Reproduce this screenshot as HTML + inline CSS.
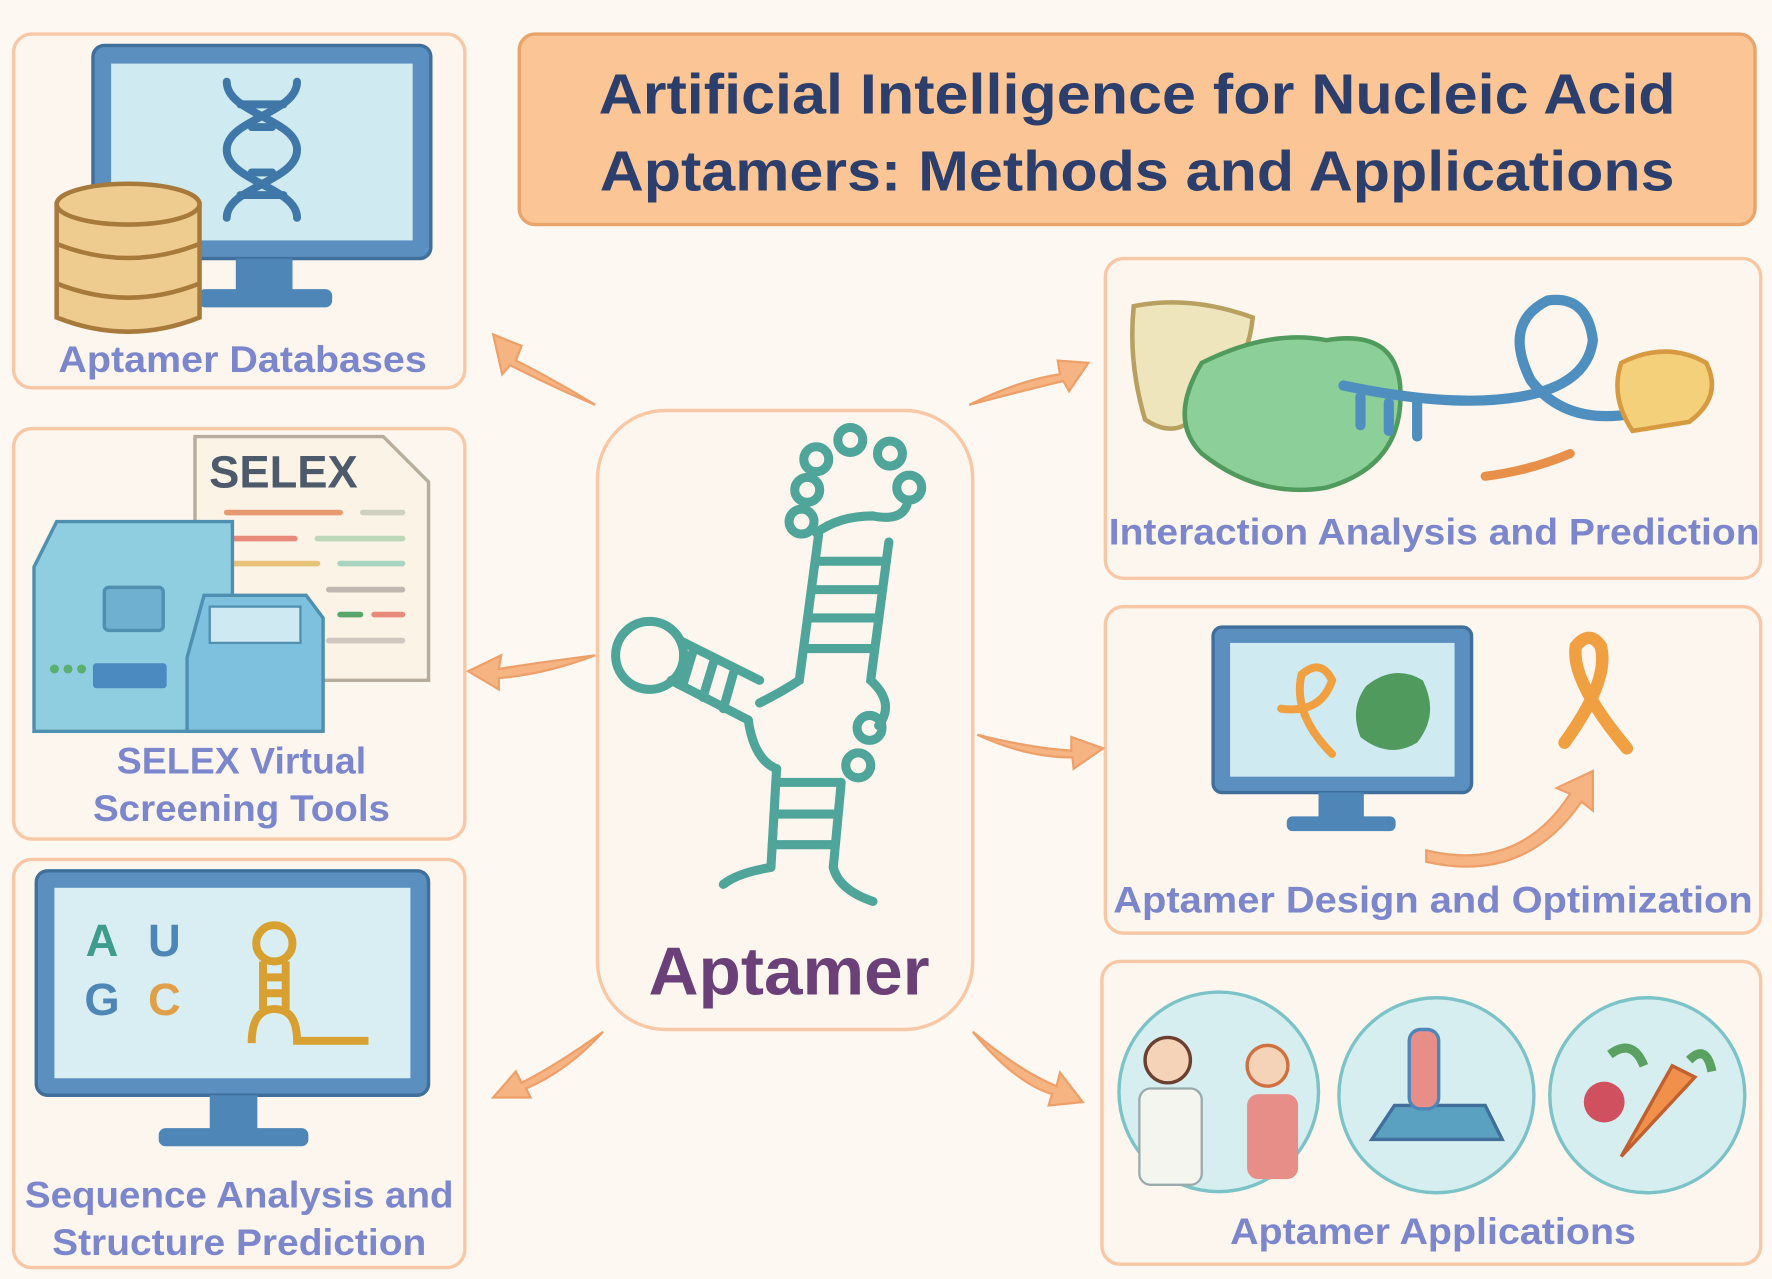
<!DOCTYPE html>
<html><head><style>
html,body{margin:0;padding:0;background:#fdf8f2;}
svg{display:block}
text{font-family:"Liberation Sans","DejaVu Sans",sans-serif;font-weight:bold}
</style></head><body>
<svg width="1772" height="1279" viewBox="0 0 1563 1128" xmlns="http://www.w3.org/2000/svg">
<rect width="1563" height="1128" fill="#fdf8f2"/>
<g fill="#fdf6ee" stroke="#f8c8a6" stroke-width="3">
<rect x="12" y="30" width="398" height="312" rx="16"/>
<rect x="12" y="378" width="398" height="362" rx="16"/>
<rect x="12" y="758" width="398" height="360" rx="16"/>
<rect x="975" y="228" width="578" height="282" rx="16"/>
<rect x="975" y="535" width="578" height="288" rx="16"/>
<rect x="972" y="848" width="581" height="267" rx="16"/>
<rect x="527" y="362" width="331" height="546" rx="60"/>
</g>
<rect x="458" y="30" width="1090" height="168" rx="14" fill="#fbc596" stroke="#e9a46c" stroke-width="3"/>
<g fill="#2c3e6b" font-size="50" text-anchor="middle">
<text x="1003" y="100" textLength="950" lengthAdjust="spacingAndGlyphs">Artificial Intelligence for Nucleic Acid</text>
<text x="1003" y="168" textLength="948" lengthAdjust="spacingAndGlyphs">Aptamers: Methods and Applications</text>
</g>
<g fill="#7b86cc" font-size="33" text-anchor="middle">
<text x="214" y="328" textLength="325" lengthAdjust="spacingAndGlyphs">Aptamer Databases</text>
<text x="213" y="682" textLength="220" lengthAdjust="spacingAndGlyphs">SELEX Virtual</text>
<text x="213" y="724" textLength="262" lengthAdjust="spacingAndGlyphs">Screening Tools</text>
<text x="211" y="1065" textLength="378" lengthAdjust="spacingAndGlyphs">Sequence Analysis and</text>
<text x="211" y="1107" textLength="330" lengthAdjust="spacingAndGlyphs">Structure Prediction</text>
<text x="1265" y="480" textLength="574" lengthAdjust="spacingAndGlyphs">Interaction Analysis and Prediction</text>
<text x="1264" y="805" textLength="564" lengthAdjust="spacingAndGlyphs">Aptamer Design and Optimization</text>
<text x="1264" y="1097" textLength="358" lengthAdjust="spacingAndGlyphs">Aptamer Applications</text>
</g>
<text x="696" y="877" fill="#6b3f78" font-size="60" text-anchor="middle" textLength="248" lengthAdjust="spacingAndGlyphs">Aptamer</text>

<!-- arrows -->
<g fill="#f6b483" stroke="#eea06a" stroke-width="2">
<path d="M525 357 Q480 330 455 318 L460 305 L435 295 L443 330 L450 322 Q485 340 525 357Z"/>
<path d="M525 578 Q470 585 440 590 L442 578 L413 592 L440 608 L440 598 Q480 595 525 578Z"/>
<path d="M532 910 Q490 940 460 955 L455 945 L435 968 L468 968 L464 960 Q500 945 532 910Z"/>
<path d="M855 357 Q900 335 935 330 L933 318 L960 320 L943 345 L938 336 Q900 345 855 357Z"/>
<path d="M862 648 Q910 660 945 662 L945 650 L973 660 L947 678 L946 668 Q905 668 862 648Z"/>
<path d="M858 910 Q900 945 932 958 L935 946 L955 972 L925 975 L928 965 Q895 955 858 910Z"/>
<path d="M1258 750 Q1340 770 1385 700 L1373 695 L1405 680 L1405 715 L1395 707 Q1345 780 1258 760Z"/>
</g>

<!-- box1 monitor + db -->
<rect x="82" y="40" width="298" height="188" rx="10" fill="#5a8fc0" stroke="#3f6f9a" stroke-width="3"/>
<rect x="98" y="56" width="266" height="156" fill="#cfeaf0"/>
<rect x="208" y="228" width="50" height="28" fill="#4f86b8"/>
<rect x="175" y="255" width="118" height="16" rx="6" fill="#4f86b8"/>
<g stroke="#3f78a8" stroke-width="7" fill="none" stroke-linecap="round">
<path d="M200 72 C200 100 262 105 262 132 C262 160 200 165 200 192"/>
<path d="M262 72 C262 100 200 105 200 132 C200 160 262 165 262 192"/>
<path d="M212 92 H250 M222 112 H240 M222 152 H240 M212 172 H250"/>
</g>
<g fill="#eecb8e" stroke="#a77a3c" stroke-width="4">
<path d="M50 180 V280 Q113 305 176 280 V180Z"/>
<ellipse cx="113" cy="180" rx="63" ry="18"/>
<path d="M50 215 Q113 240 176 215 M50 250 Q113 275 176 250" fill="none"/>
</g>

<!-- box2 selex -->
<path d="M172 385 H338 L378 425 V600 H172Z" fill="#fbf3e6" stroke="#b8ad9c" stroke-width="3"/>
<text x="250" y="430" fill="#4c5a6c" font-size="40" text-anchor="middle">SELEX</text>
<g stroke-width="5" stroke-linecap="round">
<path d="M200 452 H300" stroke="#e79a70"/><path d="M320 452 H355" stroke="#cfd0c0"/>
<path d="M200 475 H260" stroke="#e88a7a"/><path d="M280 475 H355" stroke="#bcd8b8"/>
<path d="M200 497 H280" stroke="#e9c27a"/><path d="M300 497 H355" stroke="#a8d4c0"/>
<path d="M290 520 H355" stroke="#c0b8b0"/><path d="M300 542 H318" stroke="#5aa66a"/><path d="M330 542 H355" stroke="#e88a7a"/>
<path d="M290 565 H355" stroke="#d0c8c0"/>
</g>
<path d="M30 500 L50 460 H205 V645 H30Z" fill="#8fcde0" stroke="#4f8fb0" stroke-width="3"/>
<rect x="92" y="518" width="52" height="38" rx="4" fill="#6fb0d0" stroke="#4f8fb0" stroke-width="3"/>
<rect x="82" y="585" width="65" height="22" rx="3" fill="#4a8ac0"/>
<circle cx="48" cy="590" r="4" fill="#5ab070"/><circle cx="60" cy="590" r="4" fill="#5ab070"/><circle cx="72" cy="590" r="4" fill="#5ab070"/>
<path d="M165 580 V645 H285 V545 L270 525 H180Z" fill="#7ec1de" stroke="#4f8fb0" stroke-width="3"/>
<rect x="185" y="535" width="80" height="32" fill="#cfe9f2" stroke="#4f8fb0" stroke-width="2"/>

<!-- box3 -->
<rect x="32" y="768" width="346" height="198" rx="10" fill="#5a8fc0" stroke="#3f6f9a" stroke-width="3"/>
<rect x="48" y="783" width="314" height="168" fill="#d9eef2"/>
<rect x="185" y="966" width="42" height="30" fill="#4f86b8"/>
<rect x="140" y="995" width="132" height="16" rx="6" fill="#4f86b8"/>
<text x="90" y="843" font-size="40" fill="#3e9c8c" text-anchor="middle">A</text>
<text x="145" y="843" font-size="40" fill="#4f86b8" text-anchor="middle">U</text>
<text x="90" y="895" font-size="40" fill="#4f86b8" text-anchor="middle">G</text>
<text x="145" y="895" font-size="40" fill="#e0a04a" text-anchor="middle">C</text>
<g stroke="#d8a030" stroke-width="7" fill="none">
<circle cx="242" cy="832" r="16"/>
<path d="M232 848 V890 M252 848 V890 M232 862 H252 M232 876 H252 M222 920 Q222 890 242 890 Q262 890 262 918 H325"/>
</g>

<!-- aptamer structure -->
<g stroke="#4fa59a" stroke-width="8" fill="none" stroke-linecap="round">
<circle cx="707" cy="460" r="11"/><circle cx="712" cy="432" r="11"/><circle cx="720" cy="405" r="11"/>
<circle cx="750" cy="388" r="11"/><circle cx="785" cy="400" r="11"/><circle cx="802" cy="430" r="11"/>
<path d="M720 470 Q740 455 770 455 Q795 460 800 445"/>
<path d="M722 472 L705 600 Q690 610 670 620 M784 478 L768 600 Q790 620 775 640"/>
<path d="M722 495 H782 M718 520 H778 M714 545 H774 M710 572 H770"/>
<circle cx="573" cy="578" r="30"/>
<path d="M600 565 L670 600 M592 600 L660 635 M612 572 L602 605 M630 582 L620 615 M648 590 L638 625"/>
<path d="M660 635 Q665 670 685 678"/>
<circle cx="767" cy="642" r="11"/><circle cx="757" cy="675" r="11"/>
<path d="M685 678 L680 765 M742 690 L735 765 M685 690 H740 M683 718 H738 M681 745 H736"/>
<path d="M680 765 Q650 770 638 780 M735 765 Q740 785 770 795"/>
</g>

<!-- interaction -->
<path d="M1000 270 Q1050 260 1105 280 Q1100 330 1060 360 Q1040 390 1010 370 Q995 320 1000 270Z" fill="#eee5bd" stroke="#b8a060" stroke-width="4"/>
<path d="M1060 320 Q1120 290 1170 300 Q1230 290 1235 340 Q1240 410 1170 430 Q1110 440 1060 400 Q1030 370 1060 320Z" fill="#8dcf98" stroke="#4f9a5c" stroke-width="4"/>
<g stroke="#4f8fc0" stroke-width="9" fill="none" stroke-linecap="round">
<path d="M1185 340 Q1280 360 1340 350 Q1400 340 1405 300 Q1400 260 1365 265 Q1325 285 1350 335 Q1380 375 1440 365 Q1470 345 1475 330"/>
<path d="M1200 350 V375 M1225 355 V380 M1250 355 V385"/>
</g>
<path d="M1430 320 Q1470 300 1505 320 Q1520 350 1490 372 L1440 380 Q1420 350 1430 320Z" fill="#f5d07a" stroke="#d89a40" stroke-width="4"/>
<path d="M1310 420 Q1350 415 1385 400" stroke="#e8904a" stroke-width="8" fill="none" stroke-linecap="round"/>

<!-- design -->
<rect x="1070" y="553" width="228" height="146" rx="8" fill="#5a8fc0" stroke="#3f6f9a" stroke-width="3"/>
<rect x="1085" y="567" width="198" height="118" fill="#cfeaf0"/>
<rect x="1163" y="699" width="40" height="22" fill="#4f86b8"/>
<rect x="1135" y="720" width="96" height="13" rx="5" fill="#4f86b8"/>
<path d="M1130 625 Q1165 630 1175 600 Q1165 580 1148 595 Q1140 630 1175 665" stroke="#f0a040" stroke-width="7" fill="none" stroke-linecap="round"/>
<path d="M1205 605 Q1230 585 1255 600 Q1270 630 1250 655 Q1225 670 1200 650 Q1190 625 1205 605Z" fill="#4f9a5c"/>
<path d="M1380 655 Q1420 600 1412 570 Q1402 555 1390 570 Q1385 600 1435 660" stroke="#f0a040" stroke-width="11" fill="none" stroke-linecap="round"/>

<!-- applications -->
<g fill="#d6eef0" stroke="#7cc3c8" stroke-width="3">
<circle cx="1075" cy="963" r="88"/><circle cx="1267" cy="966" r="86"/><circle cx="1453" cy="966" r="86"/>
</g>
<rect x="1005" y="960" width="55" height="85" rx="10" fill="#f5f5f0" stroke="#9aa" stroke-width="2"/>
<circle cx="1030" cy="935" r="20" fill="#f5d3b8" stroke="#6b4030" stroke-width="3"/>
<rect x="1100" y="965" width="45" height="75" rx="10" fill="#e88e88"/>
<circle cx="1118" cy="940" r="18" fill="#f5d3b8" stroke="#d07040" stroke-width="3"/>
<path d="M1210 1005 L1230 975 H1310 L1325 1005Z" fill="#5aa0c0" stroke="#3f6f9a" stroke-width="3"/>
<rect x="1243" y="908" width="26" height="70" rx="10" fill="#e88e88" stroke="#4f86b8" stroke-width="3"/>
<path d="M1430 1020 L1495 950 L1475 940Z" fill="#f0904a" stroke="#c06030" stroke-width="3"/>
<circle cx="1415" cy="972" r="18" fill="#d05060"/>
<path d="M1420 930 Q1440 915 1450 940 M1490 935 Q1505 920 1510 945" stroke="#5aa060" stroke-width="8" fill="none"/>
</svg>
</body></html>
